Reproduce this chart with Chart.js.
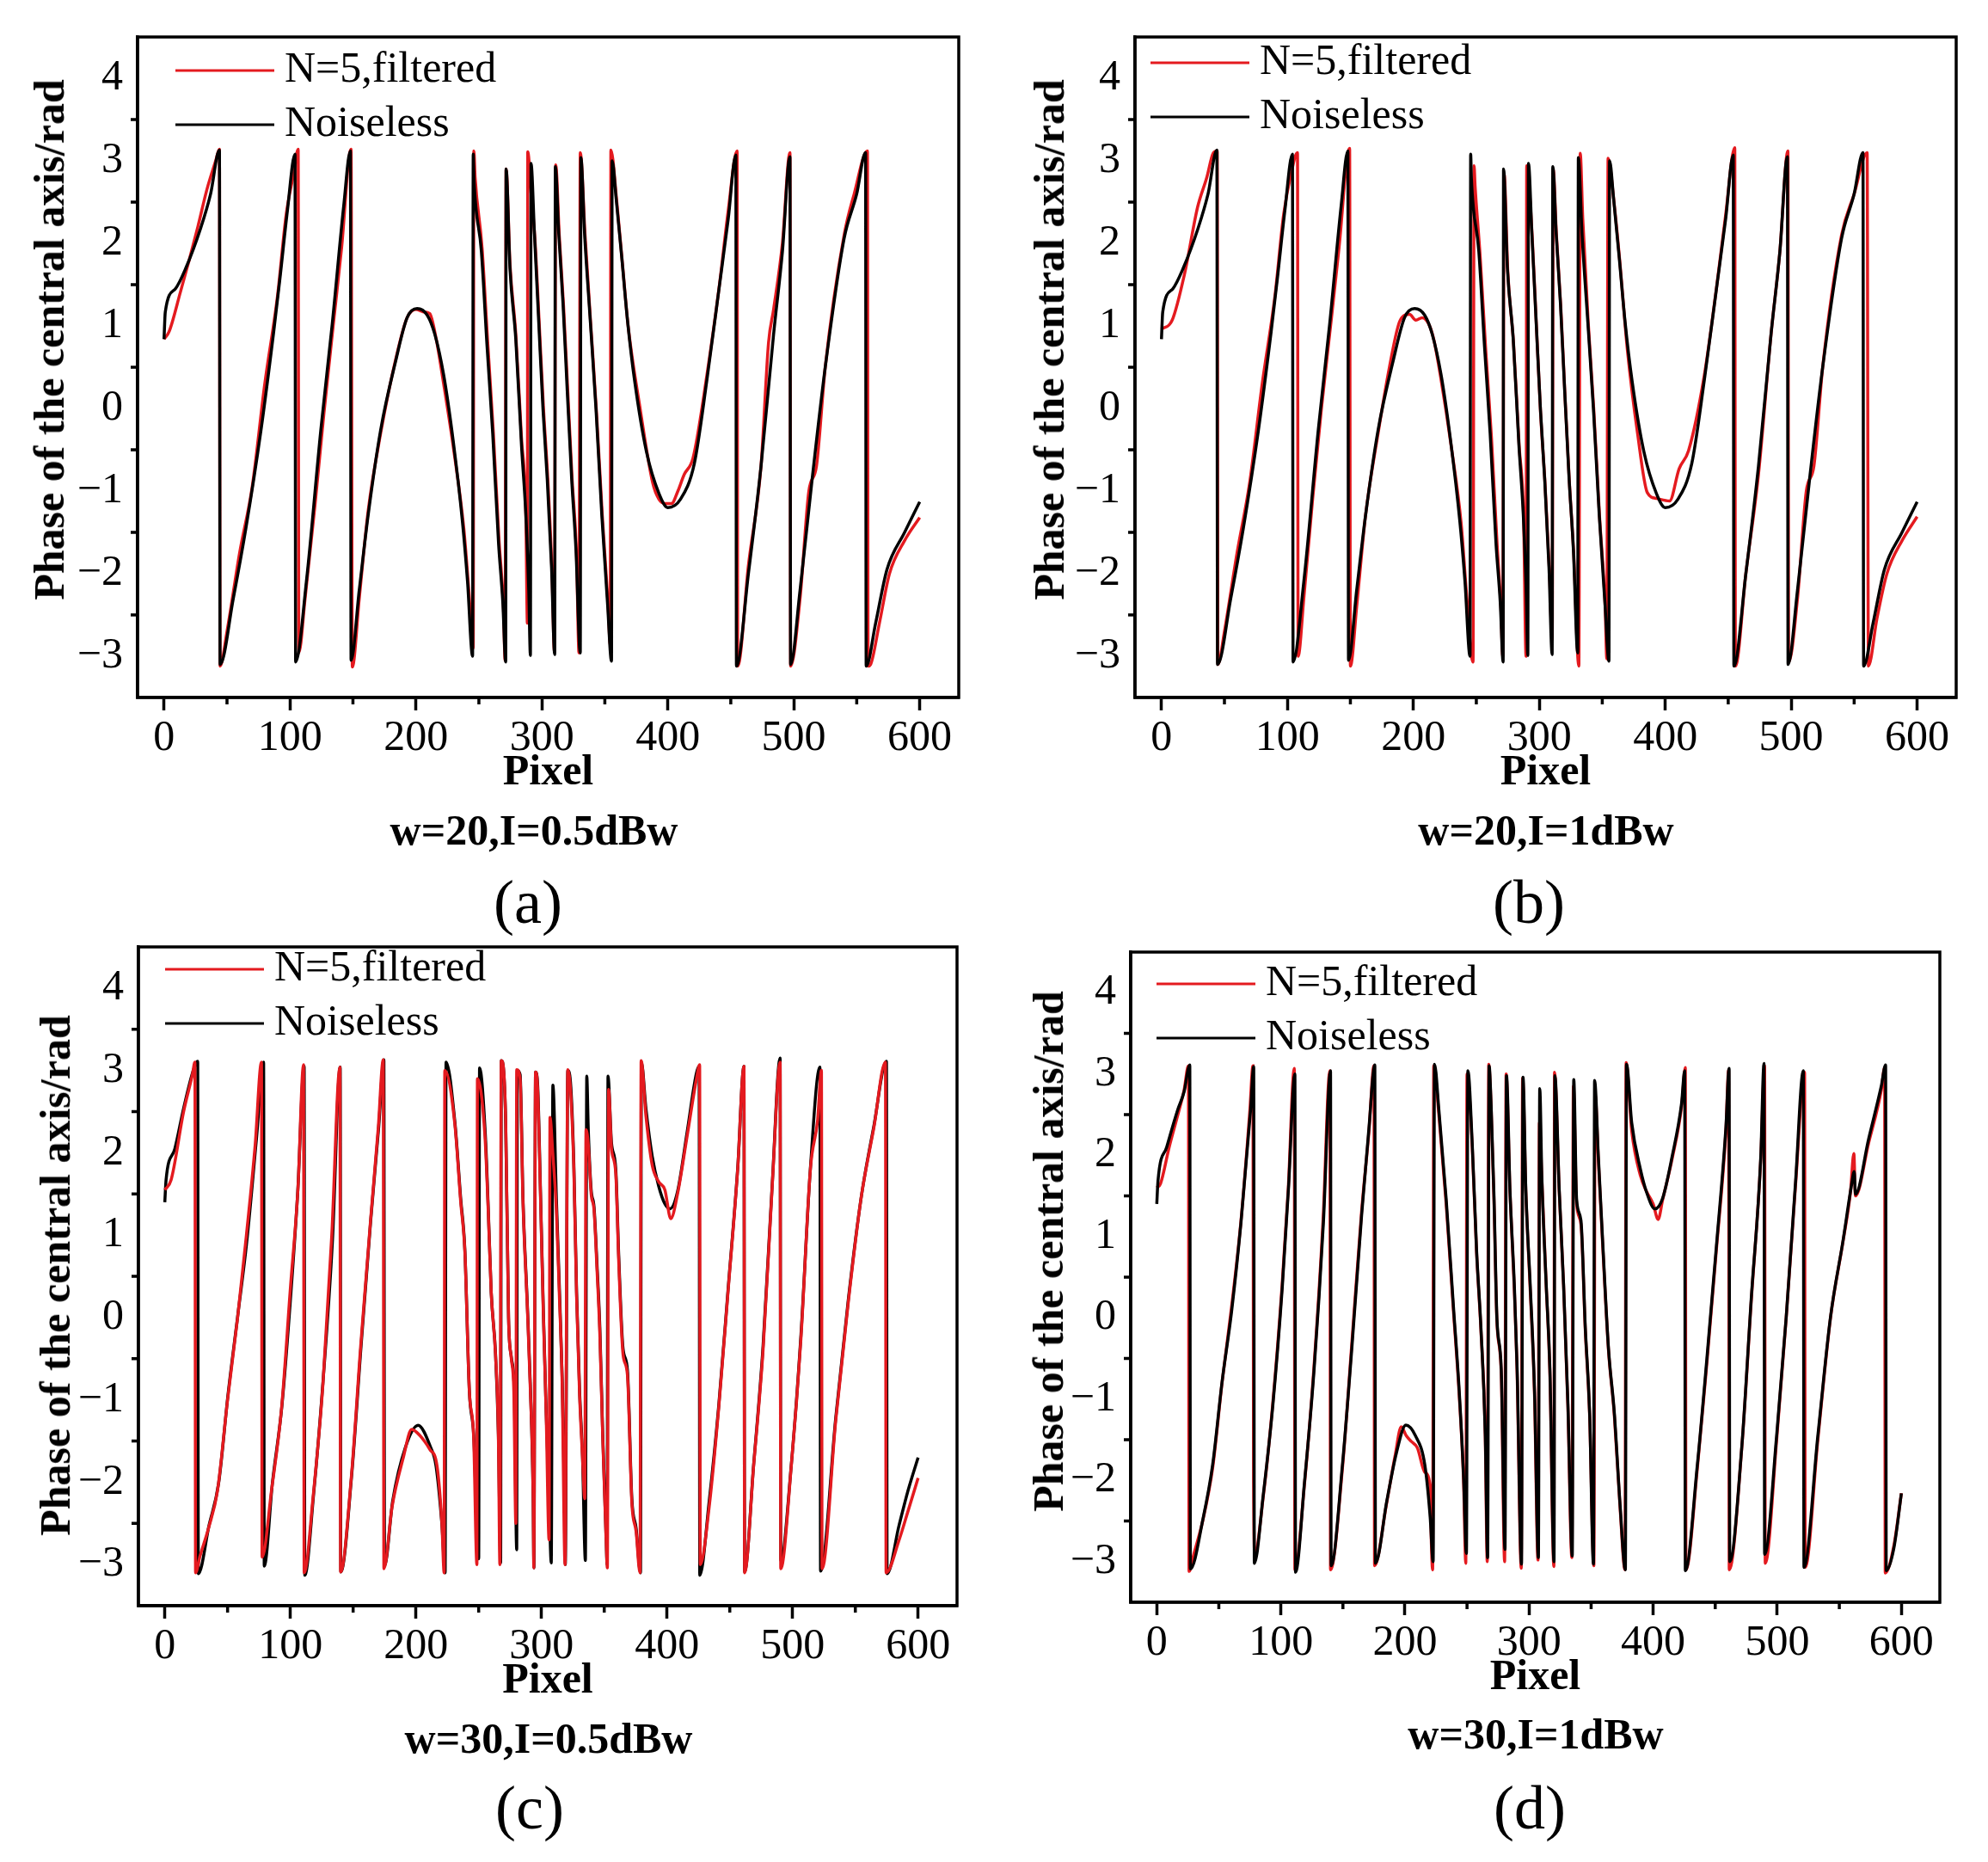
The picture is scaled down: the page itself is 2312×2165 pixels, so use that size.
<!DOCTYPE html>
<html lang="en">
<head>
  <meta charset="UTF-8" />
  <title>Phase of the central axis</title>
  <script src="https://cdn.jsdelivr.net/npm/chart.js"></script>
  <style>
    body { margin: 0; background: #fff; }
    #page { position: relative; width: 2312px; height: 2165px; overflow: hidden; font-family: 'Liberation Serif', 'Times New Roman', serif; color: #000; }
    canvas { position: absolute; }
    .ylab { position: absolute; font-weight: bold; font-size: 50px; line-height: 1; white-space: nowrap; transform: translate(-50%, -50%) rotate(-90deg); }
    .cond { position: absolute; font-weight: bold; font-size: 50px; line-height: 1; white-space: nowrap; transform: translate(-50%, -50%); }
    .tag { position: absolute; font-size: 72px; line-height: 1; white-space: nowrap; transform: translate(-50%, -50%); }
  </style>
</head>
<body>
<div id="page">
  <canvas id="cA"></canvas>
  <canvas id="cB"></canvas>
  <canvas id="cC"></canvas>
  <canvas id="cD"></canvas>
</div>

<script>
  // axis ticks
  const xTicks = [0, 100, 200, 300, 400, 500, 600];
  const xMinorTicks = [50, 150, 250, 350, 450, 550];
  const yTicks = [-3, -2, -1, 0, 1, 2, 3, 4];
  const yMinorTicks = [-2.5, -1.5, -0.5, 0.5, 1.5, 2.5, 3.5];
  const seriesNames = ['N=5,filtered', 'Noiseless'];

  // w=20 noiseless phase (same in a and b), [pixel, rad]
  const noiseless20 = [
    [0,0.84],[1,1.17],[9,1.45],[17,1.69],[29,2.18],[37,2.6],[44,3.13],
    [44.5,-3.1],[55,-2.3],[65,-1.45],[77,-0.26],[87,0.92],[92,1.57],[98,2.4],[104,3.08],
    [104.5,-3.07],[113,-2.1],[124.5,-0.26],[133.6,1.03],[142.7,2.46],[148,3.12],
    [148.5,-3.05],[155,-2.2],[162,-1.3],[172,-0.26],[184,0.58],[193,1.1],[201,1.21],[209,1.13],[215,0.9],[222,0.41],[229.5,-0.38],[237,-1.38],[241,-2.1],[245,-3.0],
    [245.5,3.08],[246.1,2.78],[252,1.9],[256.5,0.75],[261,-0.31],[265.6,-1.63],[269,-2.35],[271.3,-3.07],
    [271.6,2.9],[274.7,1.69],[279.3,0.84],[283.8,-0.44],[287.3,-1.29],[289.6,-2.2],[290.9,-2.99],
    [291.4,2.97],[294.1,2.12],[297.5,1.05],[300.9,-0.01],[304.3,-0.86],[307.7,-1.93],[310.2,-2.98],
    [310.7,2.93],[313.4,2.12],[316.8,1.27],[320.2,0.2],[323.7,-0.86],[327.1,-1.72],[330.5,-2.96],
    [331,3.04],[333.9,2.12],[338.5,1.05],[343,-0.01],[347.6,-1.29],[352.1,-2.35],[355.3,-3.06],
    [355.8,3.0],[359,2.54],[363.5,1.82],[368.1,1.05],[373.7,0.33],[383,-0.52],[393,-1.03],[400,-1.2],[410,-1.1],[421,-0.67],[431,0.34],[441,1.49],[448,2.3],[454,3.07],
    [454.5,-3.12],[464,-2.0],[474,-0.7],[484,0.9],[491,1.9],[497,3.05],
    [497.5,-3.1],[505,-2.2],[515,-0.8],[525,0.5],[540,2.06],[550,2.6],[557,3.1],
    [557.5,-3.12],[565,-2.6],[574,-1.95],[588,-1.5],[600,-1.13]
  ];

  // (a) w=20, I=0.5dBw filtered
  const filtered20a = [
    [0,0.84],[4,0.93],[13,1.41],[20,1.8],[27,2.21],[34,2.65],[41,3.0],[44,3.14],
    [44.5,-3.12],[50,-2.7],[60,-1.75],[70,-0.95],[80,0.3],[90,1.35],[97,2.35],[103,2.85],[106.5,3.14],
    [107,-2.96],[112,-2.3],[120,-1.15],[127,-0.05],[135,1.1],[141,1.95],[148.5,3.14],
    [149.5,-3.13],[155,-2.3],[162,-1.25],[172,-0.3],[184,0.6],[193,1.1],[200,1.2],[206,1.17],[211,1.15],[216,0.85],[222,0.3],[230,-0.5],[238,-1.45],[242,-2.2],[245.5,-2.9],
    [246,3.12],[247,2.8],[252.5,1.95],[257,0.8],[261.5,-0.3],[266,-1.6],[269.5,-2.4],[270.8,-3.05],
    [271.6,2.9],[274.7,1.75],[279.3,0.9],[283.8,-0.35],[287.3,-1.3],[288.5,-2.6],
    [288.8,3.11],[291.5,2.6],[294.5,2.05],[298,1.0],[301.3,0.0],[304.7,-0.85],[308,-1.95],[310,-2.95],
    [311,2.95],[313.8,2.1],[317.2,1.25],[320.6,0.2],[324,-0.85],[327.5,-1.75],[329.5,-2.96],
    [330.5,3.1],[334.3,2.1],[338.9,1.0],[343.4,-0.05],[348,-1.3],[352.5,-2.35],[354.3,-2.86],
    [354.8,3.13],[359.5,2.5],[364,1.75],[368.5,1.0],[378,0.0],[388,-0.9],[393,-1.1],[398,-1.15],[403,-1.15],[408,-1.0],[413,-0.8],[420,-0.6],[431,0.4],[441,1.5],[448,2.4],[455,3.12],
    [455.5,-3.12],[464,-1.9],[474,-0.7],[480,0.8],[484,1.2],[491,2.0],[497,3.1],
    [497.5,-3.12],[505,-2.3],[512,-1.0],[518,-0.7],[525,0.5],[540,2.1],[548,2.6],[558.5,3.12],
    [559,-3.12],[561,-3.1],[568,-2.6],[576,-2.0],[588,-1.6],[600,-1.32]
  ];

  // (b) w=20, I=1dBw filtered
  const filtered20b = [
    [0,0.96],[8.5,1.07],[18.6,1.65],[28.7,2.44],[36,2.8],[41,3.09],[44.3,3.12],
    [44.8,-3.1],[50,-2.7],[60,-1.75],[70,-0.9],[80,0.3],[90,1.35],[97,2.35],[103,2.85],[108,3.1],
    [108.5,-3.0],[113,-2.3],[120,-1.1],[127,0.0],[135,1.1],[141,1.95],[149.4,3.15],
    [150,-3.12],[155,-2.4],[162,-1.3],[172,-0.3],[181,0.5],[189.6,1.07],[197,1.14],[202,1.07],[207,1.1],[212,1.03],[216,0.85],[222,0.35],[230,-0.45],[238,-1.4],[242,-2.2],[247.4,-3.07],
    [248.2,2.94],[249,2.7],[253,1.85],[257.5,0.7],[262,-0.35],[266.5,-1.65],[269.5,-2.4],[271,-3.0],
    [272,2.85],[275,1.65],[279.5,0.8],[284,-0.45],[287.5,-1.3],[289.5,-3.0],
    [290,2.94],[294.3,2.1],[297.7,1.0],[301,-0.05],[304.5,-0.9],[308,-1.95],[310.3,-2.8],
    [311,2.9],[313.6,2.1],[317,1.25],[320.4,0.15],[323.9,-0.9],[327.3,-1.75],[331.4,-3.12],
    [332.5,3.09],[334.5,2.3],[338.8,1.05],[343.2,0.0],[347.8,-1.3],[352.3,-2.4],[353.6,-3.03],
    [354.6,3.03],[359.3,2.5],[363.8,1.8],[370,0.7],[378,-0.3],[385.8,-1.02],[393.3,-1.09],[403.4,-1.12],[411,-0.73],[418.5,-0.51],[431,0.4],[441,1.5],[448,2.35],[455.2,3.16],
    [455.7,-3.12],[464,-2.0],[474,-0.8],[484,0.9],[491,1.9],[497.4,3.12],
    [498,-3.07],[505,-2.3],[512,-1.0],[518,-0.7],[525,0.5],[540,2.1],[550,2.6],[560.3,3.1],
    [561.3,-3.12],[568,-2.55],[576,-2.0],[588,-1.6],[600,-1.31]
  ];

  // (c) w=30, I=0.5dBw
  const noiseless30c = [
    [0,1.4],[1,1.67],[8,2.05],[15,2.54],[22.7,3.0],[26.2,3.11],
    [26.7,-3.11],[35.3,-2.52],[42.9,-2.01],[50.4,-0.93],[58,0.01],[65.5,0.95],[73,2.17],[78.7,3.1],
    [79.2,-3.02],[85.7,-2.01],[93.3,-1.07],[100.8,0.37],[105.9,1.53],[111,3.05],
    [111.5,-3.13],[118.5,-2.15],[126,-0.78],[133.6,0.95],[139.7,3.04],
    [140.2,-3.09],[148.7,-1.94],[156.3,-0.35],[163.9,1.16],[170.4,2.32],[174.5,3.13],
    [175,-3.02],[181.5,-2.23],[191.6,-1.58],[201.7,-1.31],[211.8,-1.58],[216,-1.8],[220.7,-2.51],[223.3,-3.1],
    [224,3.1],[231,2.38],[235.7,1.44],[239,0.82],[242.6,-0.9],[246,-1.42],[250,-2.93],
    [250.7,3.03],[255.3,2.22],[257.6,1.34],[260,0.3],[263.4,-0.43],[265.7,-1.42],[267.5,-2.98],
    [268,3.12],[271.5,2.38],[273.8,-0.01],[276,-0.48],[278.4,-0.9],[280.3,-2.82],
    [280.8,3.0],[283,2.95],[285.3,1.44],[288.8,0.14],[291.1,-0.8],[293.4,-2.2],[294,-3.04],
    [295.3,2.98],[296.9,2.85],[299.2,1.55],[301.5,0.09],[303.8,-1.16],[306.1,-2.2],[307.8,-2.98],
    [309.1,2.82],[311.9,1.44],[314.2,0.4],[316.5,-0.74],[318.4,-2.2],[319,-3.0],
    [321,3.0],[323.4,2.8],[325.8,1.86],[328,0.3],[330.4,-0.9],[332.7,-1.68],[335,-2.95],
    [336.1,2.93],[337.3,2.28],[339.6,1.55],[341.9,1.34],[344.2,0.66],[346.5,-0.12],[348.8,-1.42],[351.6,-2.72],[352.3,-3.0],
    [353,2.93],[355.8,2.12],[359.2,1.8],[361.5,0.77],[365,-0.38],[368.5,-0.64],[372,-2.2],[375.4,-2.56],[378.9,-3.1],
    [379.6,3.1],[383.2,2.54],[388.2,1.96],[393.3,1.6],[398.3,1.38],[402.4,1.32],[408.4,1.53],[416,2.25],[423.5,2.97],[425.6,3.05],
    [426.1,-3.13],[433.6,-2.23],[441.2,-1.07],[448.8,0.37],[456.3,1.81],[461.3,3.05],
    [461.8,-3.09],[469,-1.79],[476.5,-0.35],[484,1.67],[490.1,3.15],
    [490.6,-2.95],[499,-1.79],[506.7,-0.21],[514.2,1.81],[521.8,3.04],
    [522.3,-3.08],[534.4,-1.22],[544.5,0.23],[554.6,1.45],[564.7,2.32],[574.8,3.11],
    [575.3,-3.11],[584.9,-2.52],[592,-2.1],[600,-1.7]
  ];
  const filtered30c = [
    [0,1.55],[5,1.67],[15,2.5],[22,2.95],[24,3.1],
    [24.5,-3.1],[28,-2.9],[35,-2.55],[42,-2.1],[50,-1.0],[58,0.0],[65,1.0],[72,2.1],[77,3.1],
    [77.5,-2.91],[85,-2.1],[93,-1.1],[100,0.35],[106,1.55],[110.5,3.07],
    [111,-3.1],[118,-2.2],[126,-0.8],[133,1.0],[139.5,3.04],
    [140,-3.09],[148.5,-1.95],[156,-0.35],[164,1.2],[170,2.3],[174,3.13],
    [174.5,-3.05],[181,-2.3],[190,-1.7],[196.6,-1.36],[201,-1.4],[206.7,-1.5],[211,-1.6],[216.8,-1.8],[220.7,-2.5],[222.5,-3.1],
    [223,3.0],[231,2.35],[235.7,1.4],[239,0.8],[242.6,-0.9],[246,-1.45],[248.6,-3.0],
    [249,2.9],[255,2.2],[257.6,1.3],[260,0.3],[263.4,-0.45],[265.7,-1.45],[266.9,-3.0],
    [268,3.12],[271.5,2.4],[273.8,0.0],[276,-0.5],[278,-0.9],[279.6,-2.5],
    [280.3,3.01],[283,2.9],[285.3,1.4],[288.8,0.1],[291.1,-0.85],[293.4,-2.2],[293.9,-3.04],
    [295.3,2.98],[296.9,2.8],[299.2,1.5],[301.5,0.05],[303.8,-1.2],[306.1,-2.7],
    [306.8,2.43],[309,2.0],[311.9,1.3],[314.2,0.3],[316.5,-0.8],[318.8,-3.0],
    [321,3.01],[323.4,2.7],[325.8,1.8],[328,0.25],[330.4,-0.95],[332.7,-1.7],[334.5,-2.2],
    [335.5,2.28],[337.3,2.1],[339.6,1.5],[341.9,1.3],[344.2,0.6],[346.5,-0.2],[348.8,-1.45],[351.6,-2.75],[352.5,-3.04],
    [353.5,2.77],[355.8,2.05],[359.2,1.75],[361.5,0.7],[365,-0.45],[368.5,-0.7],[372,-2.25],[375.4,-2.6],[378.5,-3.1],
    [379.4,3.12],[383.2,2.45],[388.2,1.85],[393.3,1.65],[398.3,1.55],[403,1.2],[408.4,1.5],[416,2.2],[423.5,2.9],[426,3.07],
    [426.5,-3.0],[433.6,-2.3],[441.2,-1.1],[448.8,0.35],[456.3,1.8],[461.3,3.05],
    [461.8,-3.1],[469,-1.8],[476.5,-0.4],[484,1.65],[490.1,3.1],
    [490.6,-3.05],[499,-1.8],[506.7,-0.25],[514.2,1.8],[520,2.4],[523,3.0],
    [523.5,-3.05],[534.4,-1.25],[544.5,0.2],[554.6,1.45],[564.7,2.3],[574,3.1],
    [574.5,-3.1],[584.9,-2.7],[592,-2.35],[600,-1.95]
  ];

  // (d) w=30, I=1dBw
  const noiseless30d = [
    [0,1.4],[1,1.69],[8,2.1],[16.9,2.56],[22,2.78],[26.6,3.11],
    [27.1,-3.09],[37.3,-2.47],[45,-1.81],[52.6,-0.79],[60.3,0.08],[67.9,1.18],[75.6,2.56],[78.1,3.09],
    [78.6,-3.02],[85.8,-2.18],[93.5,-1.08],[101.1,0.37],[106.2,1.61],[111.3,3.0],
    [111.8,-3.13],[119,-2.03],[126.7,-0.65],[134.3,1.18],[140,3.04],
    [140.5,-3.05],[149.6,-1.81],[157.3,-0.35],[165,1.25],[171,2.34],[175.7,3.11],
    [176.2,-3.02],[185.4,-2.25],[193,-1.67],[200.7,-1.32],[208.4,-1.45],[216,-1.81],[220.3,-2.45],[222.7,-3.0],
    [223.8,3.12],[227.3,2.56],[233.2,1.46],[239,0.15],[243.7,-0.9],[247.2,-1.95],[249.5,-2.9],
    [250.7,3.04],[254.2,2.14],[257.7,0.83],[261.2,-0.12],[264.7,-1.43],[266.6,-2.95],
    [267.8,3.1],[269.4,2.62],[271.7,1.51],[274.1,-0.01],[277.6,-0.64],[280.6,-2.85],
    [281.8,2.98],[284.6,1.57],[288.1,0.41],[290.4,-0.64],[293.9,-3.03],
    [295.1,2.96],[297.4,1.57],[300.9,0.41],[304.4,-0.9],[307.5,-2.95],
    [308.6,2.82],[310.3,1.72],[313.8,0.41],[316.8,-0.64],[320.1,-3.0],
    [320.8,2.98],[324.3,1.57],[327.8,0.41],[331.3,-1.06],[334.8,-2.93],
    [336,2.93],[338.3,1.46],[341.8,1.2],[345.3,-0.12],[348.8,-1.17],[351.9,-3.03],
    [352.8,2.92],[355.8,1.99],[359.3,0.94],[364,-0.38],[368.7,-1.17],[373.4,-2.32],[377.6,-3.1],
    [378.5,3.12],[382.7,2.4],[389.7,1.83],[394.8,1.54],[401.4,1.34],[407.6,1.47],[415.2,1.98],[422.9,2.64],[425.4,3.04],
    [425.9,-3.11],[435.6,-1.81],[443.3,-0.5],[451,0.89],[458.6,2.34],[461.2,3.07],
    [461.7,-3.0],[471.4,-1.59],[479,0.23],[486.7,1.98],[489.3,3.13],
    [489.8,-2.91],[499.5,-1.45],[507.2,0.01],[514.8,1.69],[521,3.04],
    [521.5,-3.07],[532.7,-1.45],[542.9,0.01],[553.1,0.96],[560,1.65],[562,1.8],[563,1.52],[573.6,2.2],[583.8,2.85],[587.3,3.11],
    [587.8,-3.11],[594,-2.83],[600,-2.16]
  ];
  const filtered30d = [
    [0,1.6],[3,1.65],[10,2.1],[17,2.5],[22,2.8],[25.5,3.1],
    [26,-3.12],[30,-2.9],[37,-2.5],[45,-1.85],[52.6,-0.8],[60,0.1],[67.9,1.2],[75,2.55],[77.5,3.1],
    [78,-2.0],[79,-2.9],[85.8,-2.2],[93.5,-1.05],[101,0.4],[106,1.6],[110.8,3.07],
    [111.3,-3.1],[119,-2.05],[126.7,-0.6],[134,1.2],[139.5,3.04],
    [140,-3.1],[149.6,-1.85],[157,-0.35],[165,1.3],[171,2.3],[175,3.1],
    [175.5,-3.05],[185,-2.3],[192,-1.7],[197,-1.34],[201,-1.45],[205,-1.52],[210,-1.6],[216,-1.9],[220.5,-2.1],[221,-2.6],[222.3,-3.1],
    [223.2,3.1],[227.3,2.5],[233.2,1.4],[239,0.1],[243.7,-0.95],[247.2,-2.0],[249,-3.02],
    [250,3.0],[254.2,2.1],[257.7,0.8],[261.2,-0.15],[264.7,-1.45],[266.3,-3.0],
    [267.5,3.12],[269.4,2.6],[271.7,1.45],[274.1,-0.05],[277.6,-0.7],[280.3,-3.0],
    [281.5,3.0],[284.6,1.55],[288.1,0.35],[290.4,-0.7],[293.7,-3.08],
    [294.8,2.95],[297.4,1.55],[300.9,0.35],[304.4,-0.95],[307.2,-2.98],
    [308.3,2.4],[310.3,1.7],[313.8,0.4],[316.8,-0.7],[320,-3.06],
    [320.5,3.02],[324.3,1.55],[327.8,0.4],[331.3,-1.1],[334.5,-2.95],
    [335.7,2.85],[338.3,1.4],[341.8,1.15],[345.3,-0.15],[348.8,-1.2],[352.2,-3.05],
    [353.2,2.75],[355.8,1.95],[359.3,0.9],[364,-0.4],[368.7,-1.2],[373.4,-2.35],[377.3,-3.1],
    [378.2,3.14],[382.7,2.3],[389.7,1.75],[394.8,1.55],[400,1.4],[404,1.21],[407.6,1.45],[415.2,1.95],[422.9,2.6],[425.9,3.08],
    [426.4,-3.1],[435.6,-1.85],[443.3,-0.55],[451,0.85],[458.6,2.3],[460.8,3.05],
    [461.3,-3.1],[471.4,-1.6],[479,0.2],[486.7,1.95],[489.8,3.1],
    [490.3,-3.02],[499.5,-1.5],[507.2,0.0],[514.8,1.65],[522,3.02],
    [522.5,-3.07],[532.7,-1.5],[542.9,0.0],[553.1,0.95],[559,1.55],[561.7,2.02],[563,1.5],[573.6,2.15],[583.8,2.8],[586.5,3.08],
    [587,-3.14],[594,-2.8],[600,-2.16]
  ];

  const RED = '#e41a1f';
  const FONT = "'Liberation Serif', 'Times New Roman', serif";

  // canvas placement and per-panel text positions
  const panels = [
    { id: 'cA', left: 0, top: 0, w: 1156, h: 940, pad: { left: 20, right: 41, top: 43 }, legend: [44, 39],
      filtered: filtered20a, noiseless: noiseless20, redOnTop: false,
      cond: 'w=20,I=0.5dBw', condPos: [621, 965], tag: '(a)', tagPos: [614, 1049], ylabPos: [57, 395] },
    { id: 'cB', left: 1156, top: 0, w: 1156, h: 940, pad: { left: 24, right: 37, top: 43 }, legend: [18, 30],
      filtered: filtered20b, noiseless: noiseless20, redOnTop: false,
      cond: 'w=20,I=1dBw', condPos: [1798, 965], tag: '(b)', tagPos: [1778, 1049], ylabPos: [1220, 395] },
    { id: 'cC', left: 0, top: 1082, w: 1156, h: 914, pad: { left: 21, right: 43, top: 19 }, legend: [31, 26],
      filtered: filtered30c, noiseless: noiseless30c, redOnTop: true,
      cond: 'w=30,I=0.5dBw', condPos: [638, 2021], tag: '(c)', tagPos: [616, 2102], ylabPos: [64, 1483] },
    { id: 'cD', left: 1156, top: 1082, w: 1156, h: 910, pad: { left: 19, right: 56, top: 25 }, legend: [30, 37],
      filtered: filtered30d, noiseless: noiseless30d, redOnTop: false,
      cond: 'w=30,I=1dBw', condPos: [1786, 2016], tag: '(d)', tagPos: [1779, 2102], ylabPos: [1219, 1455] }
  ];

  const toXY = pts => pts.map(([x, y]) => ({ x, y }));
  const fmt = v => (v < 0 ? '\u2212' + Math.abs(v) : String(v));

  // frame, minor ticks and the inside legend
  const panelDecor = {
    id: 'panelDecor',
    afterDraw(chart, args, opts) {
      const { ctx, chartArea: a, scales } = chart;
      ctx.save();
      ctx.strokeStyle = '#000';
      ctx.lineWidth = 3.5;
      ctx.beginPath();
      xMinorTicks.forEach(v => {
        const px = scales.x.getPixelForValue(v);
        ctx.moveTo(px, a.bottom);
        ctx.lineTo(px, a.bottom + 8);
      });
      yMinorTicks.forEach(v => {
        const py = scales.y.getPixelForValue(v);
        ctx.moveTo(a.left - 8, py);
        ctx.lineTo(a.left, py);
      });
      ctx.stroke();
      ctx.strokeRect(a.left, a.top, a.right - a.left, a.bottom - a.top);

      const [dx, dy] = opts.offset;
      ctx.font = '50px ' + FONT;
      ctx.textBaseline = 'middle';
      ctx.textAlign = 'left';
      chart.data.datasets.forEach((ds, i) => {
        const y = a.top + dy + i * 63;
        ctx.strokeStyle = ds.borderColor;
        ctx.lineWidth = 3;
        ctx.beginPath();
        ctx.moveTo(a.left + dx, y);
        ctx.lineTo(a.left + dx + 115, y);
        ctx.stroke();
        ctx.fillStyle = '#000';
        ctx.fillText(ds.label, a.left + dx + 127, y);
      });
      ctx.restore();
    }
  };

  const page = document.getElementById('page');
  function addText(cls, text, pos) {
    const d = document.createElement('div');
    d.className = cls;
    d.textContent = text;
    d.style.left = pos[0] + 'px';
    d.style.top = pos[1] + 'px';
    page.appendChild(d);
  }

  panels.forEach(p => {
    const cv = document.getElementById(p.id);
    cv.width = p.w;
    cv.height = p.h;
    cv.style.left = p.left + 'px';
    cv.style.top = p.top + 'px';
    cv.style.width = p.w + 'px';
    cv.style.height = p.h + 'px';

    new Chart(cv, {
      type: 'line',
      data: {
        datasets: [
          { label: seriesNames[0], data: toXY(p.filtered), borderColor: RED, backgroundColor: RED,
            borderWidth: 3.5, pointRadius: 0, cubicInterpolationMode: 'monotone', order: p.redOnTop ? 0 : 1 },
          { label: seriesNames[1], data: toXY(p.noiseless), borderColor: '#000', backgroundColor: '#000',
            borderWidth: 3.5, pointRadius: 0, cubicInterpolationMode: 'monotone', order: p.redOnTop ? 1 : 0 }
        ]
      },
      options: {
        responsive: false,
        animation: false,
        devicePixelRatio: 1,
        layout: { padding: { left: p.pad.left, right: p.pad.right, top: p.pad.top, bottom: 0 } },
        font: { family: FONT },
        plugins: {
          legend: { display: false },
          tooltip: { enabled: false },
          panelDecor: { offset: p.legend }
        },
        scales: {
          x: {
            type: 'linear',
            min: -21,
            max: 631,
            afterFit: s => { s.height = 129; s.paddingLeft = 0; s.paddingRight = 0; },
            afterBuildTicks: s => { s.ticks = xTicks.map(value => ({ value })); },
            border: { display: true, color: '#000', width: 3.5 },
            grid: { display: true, drawOnChartArea: false, drawTicks: true, tickLength: 15, tickWidth: 3.5, tickColor: '#000' },
            ticks: { color: '#000', font: { family: FONT, size: 50 }, padding: 3, autoSkip: false, maxRotation: 0, callback: v => fmt(v) },
            title: { display: true, text: 'Pixel', color: '#000', font: { family: FONT, size: 50, weight: 'bold' }, padding: { top: 0, bottom: 11 } }
          },
          y: {
            min: -3.5,
            max: 4.5,
            afterFit: s => { s.width = 140; s.paddingTop = 0; s.paddingBottom = 0; },
            afterBuildTicks: s => { s.ticks = yTicks.map(value => ({ value })); },
            border: { display: true, color: '#000', width: 3.5 },
            grid: { display: true, drawOnChartArea: false, drawTicks: false },
            ticks: { color: '#000', font: { family: FONT, size: 50 }, padding: 17, autoSkip: false, callback: v => fmt(v) }
          }
        }
      },
      plugins: [panelDecor]
    });

    addText('ylab', 'Phase of the central axis/rad', p.ylabPos);
    addText('cond', p.cond, p.condPos);
    addText('tag', p.tag, p.tagPos);
  });
</script>
</body>
</html>
